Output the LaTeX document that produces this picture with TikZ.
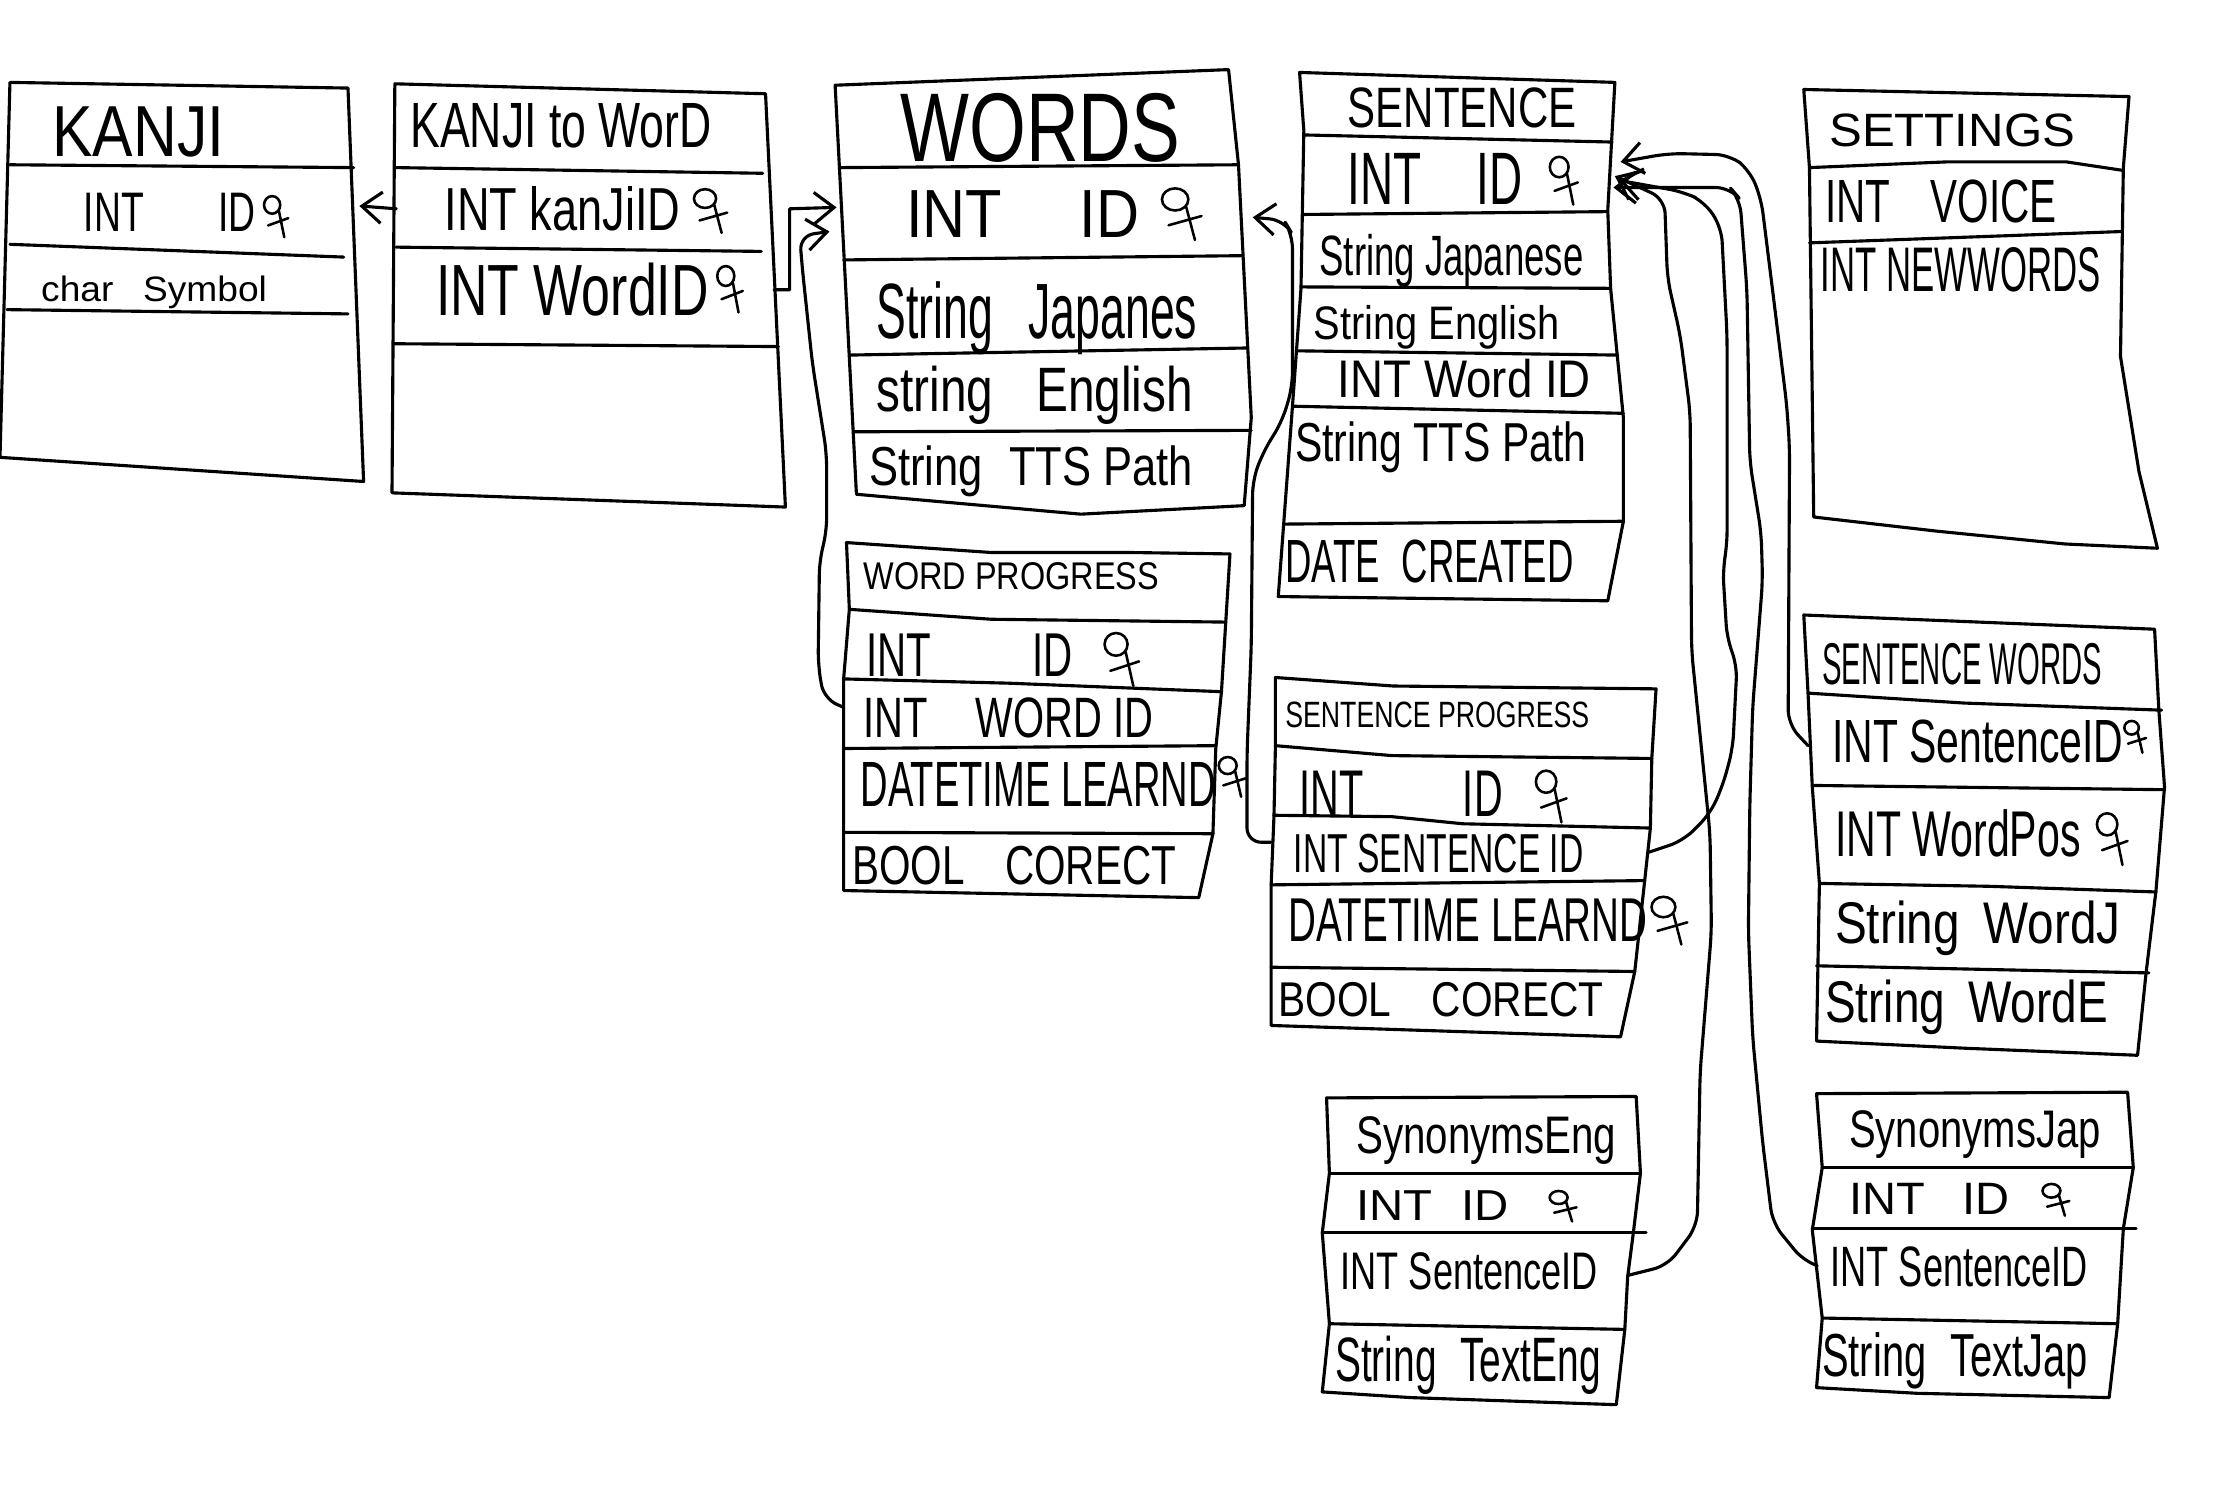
\documentclass[tikz,border=0pt]{standalone}
\usepackage{fontspec}
\setmainfont{Liberation Sans}
\usepackage{graphicx}
\usetikzlibrary{arrows.meta}
\newdimen\pxu \pxu=0.5pt
\tikzset{
 hand/.style={line width=1.1pt, line cap=round, line join=round},
 arr/.style={hand, -{Straight Barb[length=7pt,width=11pt,line width=1.1pt]}},
 conn/.style={arr, rounded corners=5},
 txtnode/.style={anchor=base west, inner sep=0pt, outer sep=0pt},
 keysym/.pic={\draw[line width=0.9pt, line cap=round] (8,8) circle[radius=3pt] (13,12) -- (17,30) (5,22) -- (20,17);}
}
\newcommand\mytxt[6]{\node[txtnode] (#1) at (#2,#3) {\resizebox{#4\pxu}{#5\pxu}{#6}};}
\newcommand\mykey[4]{\pic[xscale=#3/20,yscale=#4/30] at (#1,#2) {keysym};}
\begin{document}
\begin{tikzpicture}[x=0.5pt,y=-0.5pt]
\useasboundingbox (0,0) rectangle (1568,1046);
\fill[white] (0,0) rectangle (1568,1046);

% ---------- KANJI ----------
\draw[hand] (7,58) -- (245,62) -- (256,339) -- (0,322) -- cycle;
\draw[hand] (7,116) -- (249,118);
\draw[hand] (7,172) -- (242,181);
\draw[hand] (5,218) -- (245,221);
\mytxt{kT}{37}{110}{121}{35}{KANJI}
\mytxt{kID}{59}{163}{121}{27}{INT\hspace{2em}ID}
\mykey{184}{136}{19}{31}
\mytxt{kSym}{29}{212}{159}{18}{char\hspace{0.8em}Symbol}

% ---------- KANJI to WorD ----------
\draw[hand] (278,59) -- (539,66) -- (553,357) -- (276,347) -- cycle;
\draw[hand] (279,118) -- (537,122);
\draw[hand] (279,174) -- (536,177);
\draw[hand] (277,242) -- (548,244);
\mytxt{kwT}{289}{104}{212}{31}{KANJI to WorD}
\mytxt{kwK}{313}{162}{166}{31}{INT kanJiID}
\mykey{486}{131}{26}{33}
\mytxt{kwW}{307}{222}{192}{37}{INT WordID}
\mykey{503}{185}{20}{35}

% ---------- WORDS ----------
\draw[hand] (588,60) -- (865,49) -- (872,116) -- (881,294) -- (876,356) -- (761,362) -- (603,348) -- cycle;
\draw[hand] (591,118) -- (872,116);
\draw[hand] (594,183) -- (875,180);
\draw[hand] (598,250) -- (878,245);
\draw[hand] (601,304) -- (881,303);
\mytxt{wT}{634}{114}{197}{48}{WORDS}
\mytxt{wID}{638}{167}{164}{33}{INT\hspace{1.3em}ID}
\mykey{815}{130}{31}{39}
\mytxt{wJ}{617}{238}{226}{40}{String\hspace{0.8em}Japanes}
\mytxt{wE}{617}{290}{223}{32}{string\hspace{0.9em}English}
\mytxt{wP}{612}{342}{228}{28}{String\hspace{0.6em}TTS Path}

% ---------- SENTENCE ----------
\draw[hand] (915,51) -- (1137,58) -- (1132,148) -- (1134,203) -- (1143,294) -- (1143,367) -- (1132,423) -- (900,420) -- (910,286) -- (916,203) -- (918,92) -- cycle;
\draw[hand] (918,95) -- (1135,100);
\draw[hand] (917,151) -- (1132,149);
\draw[hand] (916,202) -- (1134,203);
\draw[hand] (913,247) -- (1139,250);
\draw[hand] (910,286) -- (1143,291);
\draw[hand] (904,369) -- (1143,367);
\mytxt{sT}{949}{90}{161}{28}{SENTENCE}
\mytxt{sID}{949}{144}{123}{36}{INT\hspace{1.2em}ID}
\mykey{1089}{108}{22}{36}
\mytxt{sJ}{929}{194}{186}{29}{String Japanese}
\mytxt{sE}{925}{239}{173}{24}{String English}
\mytxt{sW}{942}{280}{178}{27}{INT Word ID}
\mytxt{sP}{912}{325}{205}{28}{String TTS Path}
\mytxt{sD}{905}{410}{203}{30}{DATE\hspace{0.6em}CREATED}

% ---------- SETTINGS ----------
\draw[hand] (1270,63) -- (1499,68) -- (1495,118) -- (1493,251) -- (1506,332) -- (1519,386) -- (1454,383) -- (1364,374) -- (1277,364) -- (1274,118) -- cycle;
\draw[hand] (1274,118) -- (1370,114) -- (1455,114) -- (1495,120);
\draw[hand] (1274,171) -- (1494,163);
\mytxt{stT}{1288}{103}{173}{23}{SETTINGS}
\mytxt{stV}{1285}{157}{163}{30}{INT\hspace{1em}VOICE}
\mytxt{stN}{1282}{205}{197}{31}{INT NEWWORDS}

% ---------- WORD PROGRESS ----------
\draw[hand] (596,382) -- (698,389) -- (796,389) -- (866,390) -- (860,487) -- (856,527) -- (854,587) -- (844,632) -- (594,627) -- (594,586) -- (594,478) -- (598,429) -- cycle;
\draw[hand] (598,429) -- (698,436) -- (863,438);
\draw[hand] (594,478) -- (710,481) -- (860,487);
\draw[hand] (594,527) -- (856,525);
\draw[hand] (594,586) -- (854,587);
\mytxt{wpT}{608}{415}{208}{19}{WORD PROGRESS}
\mytxt{wpID}{610}{476}{145}{30}{INT\hspace{2.5em}ID}
\mykey{775}{443}{27}{40}
\mytxt{wpW}{608}{519}{204}{28}{INT\hspace{1.2em}WORD ID}
\mytxt{wpL}{606}{568}{250}{31}{DATETIME LEARND}
\mykey{856}{531}{21}{30}
\mytxt{wpB}{600}{623}{228}{27}{BOOL\hspace{1em}CORECT}

% ---------- SENTENCE PROGRESS ----------
\draw[hand] (898,477) -- (981,483) -- (1166,485) -- (1163,534) -- (1162,583) -- (1158,620) -- (1151,684) -- (1141,730) -- (895,722) -- (895,623) -- (897,574) -- (898,525) -- cycle;
\draw[hand] (898,525) -- (980,532) -- (1163,534);
\draw[hand] (897,574) -- (980,575) -- (1030,580) -- (1162,583);
\draw[hand] (895,623) -- (1158,620);
\draw[hand] (895,681) -- (1151,684);
\mytxt{spT}{905}{512}{214}{18}{SENTENCE PROGRESS}
\mytxt{spID}{915}{575}{143}{32}{INT\hspace{2.5em}ID}
\mykey{1079}{540}{24}{39}
\mytxt{spS}{911}{614}{204}{27}{INT SENTENCE ID}
\mytxt{spL}{907}{663}{253}{30}{DATETIME LEARND}
\mykey{1160}{629}{28}{36}
\mytxt{spB}{900}{716}{229}{24}{BOOL\hspace{1em}CORECT}

% ---------- SENTENCE WORDS ----------
\draw[hand] (1270,433) -- (1517,443) -- (1520,500) -- (1524,554) -- (1518,627) -- (1511,685) -- (1505,743) -- (1383,738) -- (1279,733) -- (1281,622) -- (1276,554) -- (1273,488) -- cycle;
\draw[hand] (1273,488) -- (1383,495) -- (1522,500);
\draw[hand] (1276,553) -- (1524,556);
\draw[hand] (1281,622) -- (1400,624) -- (1518,628);
\draw[hand] (1279,680) -- (1513,685);
\mytxt{swT}{1283}{482}{197}{29}{SENTENCE WORDS}
\mytxt{swS}{1290}{537}{205}{30}{INT SentenceID}
\mykey{1494}{506}{17}{24}
\mytxt{swP}{1292}{603}{173}{33}{INT WordPos}
\mykey{1474}{570}{24}{39}
\mytxt{swJ}{1292}{664}{201}{30}{String\hspace{0.5em}WordJ}
\mytxt{swE}{1285}{720}{199}{30}{String\hspace{0.5em}WordE}

% ---------- SynonymsEng ----------
\draw[hand] (934,773) -- (1152,772) -- (1155,826) -- (1150,868) -- (1146,899) -- (1144,936) -- (1138,989) -- (993,984) -- (931,980) -- (936,932) -- (931,868) -- (936,826) -- cycle;
\draw[hand] (936,826) -- (1155,826);
\draw[hand] (931,868) -- (1159,868);
\draw[hand] (936,932) -- (1144,936);
\mytxt{seT}{955}{812}{183}{26}{SynonymsEng}
\mytxt{seID}{955}{859}{107}{21}{INT\hspace{0.6em}ID}
\mykey{1089}{837}{21}{23}
\mytxt{seS}{944}{908}{181}{26}{INT SentenceID}
\mytxt{seX}{940}{973}{187}{32}{String\hspace{0.6em}TextEng}

% ---------- SynonymsJap ----------
\draw[hand] (1279,770) -- (1498,769) -- (1502,822) -- (1495,865) -- (1491,932) -- (1485,984) -- (1350,981) -- (1279,977) -- (1283,928) -- (1276,866) -- (1283,822) -- cycle;
\draw[hand] (1283,822) -- (1502,822);
\draw[hand] (1276,865) -- (1504,865);
\draw[hand] (1283,928) -- (1491,932);
\mytxt{sjT}{1302}{808}{177}{26}{SynonymsJap}
\mytxt{sjID}{1302}{855}{113}{22}{INT\hspace{0.8em}ID}
\mykey{1436}{832}{21}{24}
\mytxt{sjS}{1289}{906}{181}{28}{INT SentenceID}
\mytxt{sjX}{1283}{969}{187}{31}{String\hspace{0.6em}TextJap}

% ---------- connector end points ----------
\coordinate (kw-kid) at (279,147);
\coordinate (k-id) at (253,145);
\coordinate (kw-wid) at (545,204);
\coordinate (w-id-a) at (589,146);
\coordinate (wp-wid) at (594,498);
\coordinate (w-id-b) at (584,163);
\coordinate (sp-sid-l) at (895,593);
\coordinate (w-id-c) at (882,153);
\coordinate (sp-sid-r) at (1161,600);
\coordinate (s-id-b) at (1140,127);
\coordinate (se-sid) at (1146,898);
\coordinate (s-id-a) at (1137,124);
\coordinate (sj-sid) at (1279,891);
\coordinate (s-id-c) at (1136,132);
\coordinate (sw-sid) at (1273,525);
\coordinate (s-id-d) at (1141,114);

% ---------- connectors ----------
\draw[arr] (kw-kid) -- (k-id);
\draw[arr] (kw-wid) -- (556,204) -- (556,147) -- (w-id-a);
\draw[conn] (wp-wid) -- (580,492) -- (576,468) -- (577,394) -- (582,375) -- (582,319) -- (572,256) -- (565,190) -- (563,166) -- (w-id-b);
\draw[conn] (sp-sid-l) -- (878,593) -- (878,530) -- (881,455) -- (882,338) -- (889,319) -- (903,296) -- (910,272) -- (910,165) -- (904,155) -- (w-id-c);
\draw[conn] (sp-sid-r) -- (1185,592) -- (1204,573) -- (1213,553) -- (1220,527) -- (1223,468) -- (1216,450) -- (1213,401) -- (1216,384) -- (1216,236) -- (1212,160) -- (1200,142) -- (1185,135) -- (s-id-b);
\draw[conn] (se-sid) -- (1174,891) -- (1195,863) -- (1197,755) -- (1205,656) -- (1204,587) -- (1191,458) -- (1190,290) -- (1183,236) -- (1174,196) -- (1172,140) -- (s-id-a);
\draw[conn] (sj-sid) -- (1270,888) -- (1248,861) -- (1241,804) -- (1234,730) -- (1231,656) -- (1232,567) -- (1234,498) -- (1241,409) -- (1240,375) -- (1232,325) -- (1230,204) -- (1225,140) -- (1218,132) -- (s-id-c);
\draw[conn] (sw-sid) -- (1259,510) -- (1260,315) -- (1258,285) -- (1248,204) -- (1240,140) -- (1232,120) -- (1218,109) -- (1175,108) -- (s-id-d);
\end{tikzpicture}
\end{document}
